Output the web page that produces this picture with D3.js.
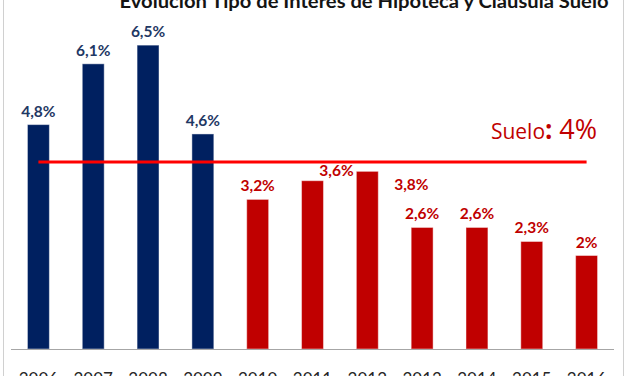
<!DOCTYPE html>
<html>
<head>
<meta charset="utf-8">
<script src="https://cdn.jsdelivr.net/npm/d3@7"></script>
<style>
    body { margin: 0; background: #fff; }
    svg { display: block; font-family: Lato, "Open Sans", sans-serif; }
</style>
</head>
<body>
<div class="vis"></div>
<script>
// data
var years = ['2006', '2007', '2008', '2009', '2010', '2011', '2012', '2013', '2014', '2015', '2016'];
var rates = [4.8, 6.1, 6.5, 4.6, 3.2, 3.6, 3.8, 2.6, 2.6, 2.3, 2.0];
var rateLabels = ['4,8%', '6,1%', '6,5%', '4,6%', '3,2%', '3,6%', '3,8%', '2,6%', '2,6%', '2,3%', '2%'];
var floorRate = 4;
var floorName = 'Suelo';
var floorLabel = '4%';
var title = 'Evolución Tipo de Interés de Hipoteca y Cláusula Suelo';

(function () {
    const svgWidth = 627;
    const svgHeight = 376;

    const navy = '#002060';
    const red = '#C00000';

    var margin = { left: 11, right: 13, bottom: 27 };
    var baseline = svgHeight - margin.bottom; // 349

    var data = years.map(function (y, i) {
        return { year: y, rate: rates[i], label: rateLabels[i] };
    });

    const svg = d3.select('.vis')
        .append('svg')
            .attr('width', svgWidth)
            .attr('height', svgHeight);

    // chart frame edges
    svg.append('line')
        .attr('x1', 3.5).attr('x2', 3.5)
        .attr('y1', 0).attr('y2', svgHeight)
        .attr('stroke', '#d0d0d0');
    svg.append('line')
        .attr('x1', 623.5).attr('x2', 623.5)
        .attr('y1', 0).attr('y2', svgHeight)
        .attr('stroke', '#d0d0d0');

    var xScale = d3.scaleBand()
        .domain(years)
        .range([margin.left, svgWidth - margin.right])
        .paddingInner(0.6)
        .paddingOuter(0.3);

    var yScale = d3.scaleLinear()
        .domain([0, 7])
        .range([baseline, baseline - 7 * 46.75]);

    // title, only its lower part is in view
    svg.append('text')
        .attr('x', 364)
        .attr('y', 8)
        .attr('text-anchor', 'middle')
        .attr('font-weight', 'bold')
        .attr('font-size', 18)
        .attr('fill', '#141414')
        .attr('textLength', 489)
        .attr('lengthAdjust', 'spacingAndGlyphs')
        .text(title);

    var colour = function (d) { return +d.year < 2010 ? navy : red; };

    svg.append('g')
        .selectAll('rect')
        .data(data)
        .enter().append('rect')
            .attr('x', function (d) { return xScale(d.year); })
            .attr('y', function (d) { return yScale(d.rate); })
            .attr('width', xScale.bandwidth())
            .attr('height', function (d) { return baseline - yScale(d.rate); })
            .attr('fill', colour)
            .attr('stroke', 'rgba(255,255,255,0.45)')
            .attr('stroke-width', 1);

    // x axis line
    svg.append('line')
        .attr('x1', margin.left).attr('x2', svgWidth - margin.right)
        .attr('y1', baseline + 0.5).attr('y2', baseline + 0.5)
        .attr('stroke', '#a6a6a6')
        .attr('stroke-width', 1);

    // year labels (cut off at the bottom)
    svg.append('g')
        .selectAll('text')
        .data(years)
        .enter().append('text')
            .attr('x', function (d) { return xScale(d) + xScale.bandwidth() / 2; })
            .attr('y', baseline + 36)
            .attr('text-anchor', 'middle')
            .attr('font-size', 17)
            .attr('fill', '#262626')
            .text(function (d) { return d; });

    // value labels; two of them sit off their bar like in the original
    var labelShift = { '2011': [24, 3], '2012': [44, 27] };

    svg.append('g')
        .selectAll('text')
        .data(data)
        .enter().append('text')
            .attr('x', function (d) {
                var s = labelShift[d.year] || [0, 0];
                return xScale(d.year) + xScale.bandwidth() / 2 + s[0];
            })
            .attr('y', function (d) {
                var s = labelShift[d.year] || [0, 0];
                return yScale(d.rate) - 8 + s[1];
            })
            .attr('text-anchor', 'middle')
            .attr('font-weight', 'bold')
            .attr('font-size', 15.5)
            .attr('fill', function (d) { return +d.year < 2010 ? '#1F3864' : red; })
            .text(function (d) { return d.label; });

    // floor line
    var first = years[0], last = years[years.length - 1];
    svg.append('line')
        .attr('x1', xScale(first) + xScale.bandwidth() / 2)
        .attr('x2', xScale(last) + xScale.bandwidth() / 2)
        .attr('y1', yScale(floorRate))
        .attr('y2', yScale(floorRate))
        .attr('stroke', '#FF0000')
        .attr('stroke-width', 3);

    var floorText = svg.append('text')
        .attr('x', 597)
        .attr('y', yScale(floorRate) - 23)
        .attr('text-anchor', 'end')
        .attr('font-family', '"Open Sans", sans-serif')
        .attr('fill', red);
    floorText.append('tspan')
        .attr('font-size', 21)
        .text(floorName);
    floorText.append('tspan')
        .attr('font-size', 26)
        .attr('font-weight', 'bold')
        .text(': ');
    floorText.append('tspan')
        .attr('font-size', 27)
        .text(floorLabel);

} (d3));
</script>
</body>
</html>
